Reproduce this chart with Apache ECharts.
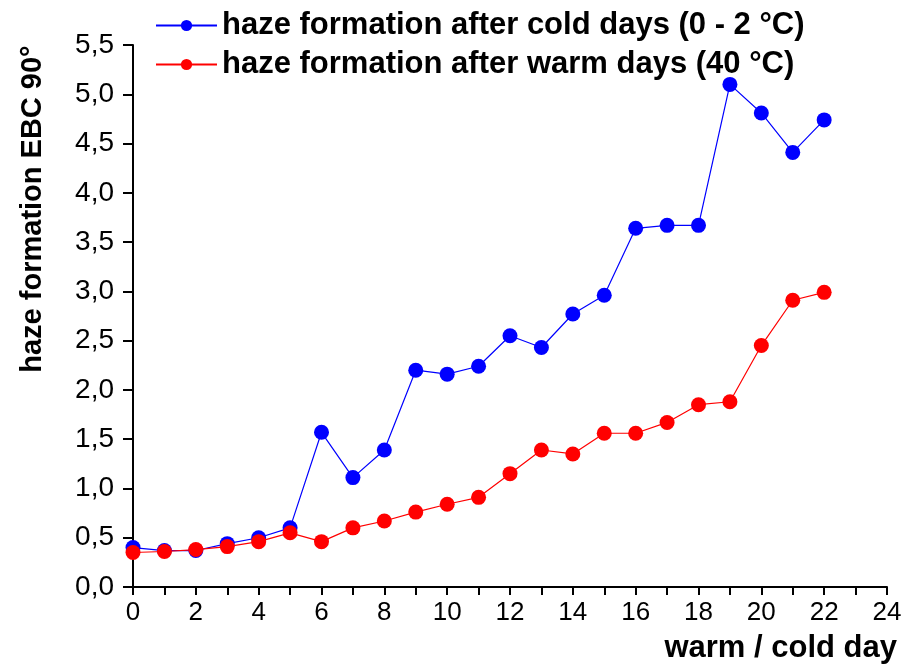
<!DOCTYPE html>
<html><head><meta charset="utf-8">
<script src="https://cdn.jsdelivr.net/npm/echarts@6/dist/echarts.min.js"></script>
<style>html,body{margin:0;padding:0;background:#fff}#c{width:911px;height:667px}</style>
</head><body><div id="c"></div>
<script>
const days = [0,1,2,3,4,5,6,7,8,9,10,11,12,13,14,15,16,17,18,19,20,21,22];
const coldValues = [0.40,0.37,0.37,0.44,0.50,0.60,1.57,1.11,1.39,2.20,2.16,2.24,2.55,2.43,2.77,2.96,3.64,3.67,3.67,5.10,4.81,4.41,4.74];
const warmValues = [0.35,0.36,0.38,0.41,0.46,0.55,0.46,0.60,0.67,0.76,0.84,0.91,1.15,1.39,1.35,1.56,1.56,1.67,1.85,1.88,2.45,2.91,2.99];
const coldName = 'haze formation after cold days (0 - 2 °C)';
const warmName = 'haze formation after warm days (40 °C)';
const yTitle = 'haze formation EBC 90°';
const xTitle = 'warm / cold day';

const chart = echarts.init(document.getElementById('c'), null, {renderer:'canvas'});
const font = 'Liberation Sans, Arial, sans-serif';
chart.setOption({
  animation:false,
  backgroundColor:'#fff',
  grid:{left:133,right:24,top:45,bottom:80},
  legend:{
    orient:'vertical', left:150, top:5, itemGap:8, itemWidth:61, itemHeight:14,
    textStyle:{fontFamily:font,fontWeight:'bold',fontSize:31,color:'#000'},
    data:[coldName,warmName]
  },
  xAxis:{
    type:'value', min:0, max:24, interval:1,
    axisLine:{lineStyle:{color:'#000',width:2}},
    axisTick:{show:true,length:8,lineStyle:{color:'#000',width:2}},
    splitLine:{show:false},
    axisLabel:{color:'#000',fontFamily:font,fontSize:26,margin:13,
      formatter:v=> v%2===0 ? String(v) : ''}
  },
  yAxis:{
    type:'value', min:0, max:5.5, interval:0.5,
    axisLine:{show:true,lineStyle:{color:'#000',width:2}},
    axisTick:{show:true,length:10,lineStyle:{color:'#000',width:2}},
    splitLine:{show:false},
    axisLabel:{color:'#000',fontFamily:font,fontSize:28,margin:19,
      formatter:v=>v.toFixed(1).replace('.',',')}
  },
  series:[
    {name:coldName,type:'line',data:days.map((d,i)=>[d,coldValues[i]]),symbol:'circle',symbolSize:15,
     itemStyle:{color:'#0000ff'},lineStyle:{color:'#0000ff',width:1.2},z:2},
    {name:warmName,type:'line',data:days.map((d,i)=>[d,warmValues[i]]),symbol:'circle',symbolSize:15,
     itemStyle:{color:'#ff0000'},lineStyle:{color:'#ff0000',width:1.2},z:3}
  ],
  graphic:[
    {type:'text',x:33,y:209,rotation:Math.PI/2,
     style:{text:yTitle,fontFamily:font,fontWeight:'bold',fontSize:29,fill:'#000',textAlign:'center',textVerticalAlign:'middle'}},
    {type:'text',x:897,y:648,
     style:{text:xTitle,fontFamily:font,fontWeight:'bold',fontSize:31,fill:'#000',textAlign:'right',textVerticalAlign:'middle'}}
  ]
});
</script></body></html>
